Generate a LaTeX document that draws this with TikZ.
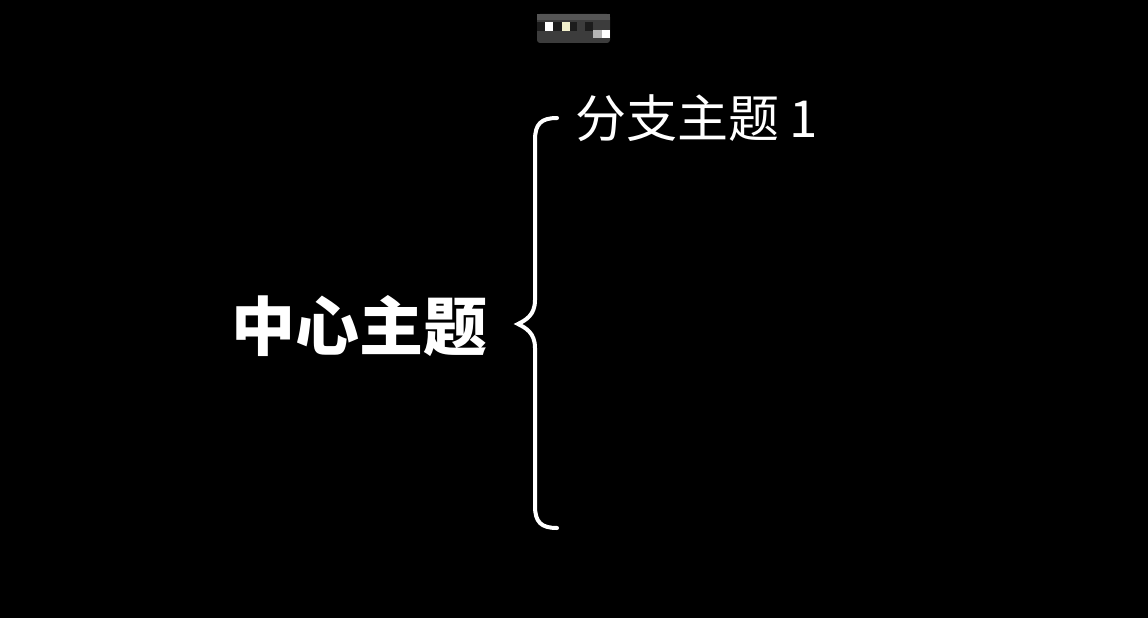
\documentclass[tikz,border=0pt]{standalone}
\usepackage{fontspec}
\usepackage{xcolor}
\usepackage{tikz}
\usetikzlibrary{positioning,calc}
\newfontfamily\cjk{Noto Sans CJK SC}

\definecolor{mosaicgray}{HTML}{3C3C3C}
\definecolor{mosaictop}{HTML}{555555}
\definecolor{mosaicdark}{HTML}{1C1C1C}
\definecolor{mosaicpale}{HTML}{F2F0CC}
\definecolor{mosaiclight}{HTML}{B4B4B4}

\begin{document}
\begin{tikzpicture}[x=1pt, y=-1pt,
  topic/.style={text=white, inner sep=0pt, font=\cjk\bfseries\fontsize{64}{72}\selectfont},
  branch/.style={text=white, inner sep=0pt, anchor=west, font=\cjk\fontsize{51}{58}\selectfont},
  bracket/.style={white, line width=4pt, line cap=round}]
  % Background
  \fill[black] (0,0) rectangle (1148,618);
  \useasboundingbox (0,0) rectangle (1148,618);

  % Mosaic at the top
  \fill[mosaicgray, rounded corners=3pt] (537,14) rectangle (610,43);
  \fill[mosaictop] (537,14) rectangle (610,20);
  \fill[mosaicdark] (537,22) rectangle (545,31);
  \fill[white] (545,22) rectangle (553,31);
  \fill[mosaicdark] (553,22) rectangle (562,31);
  \fill[mosaicpale] (562,22) rectangle (570,31);
  \fill[mosaicdark] (570,22) rectangle (577,31);
  \fill[mosaicdark] (585,22) rectangle (593,31);
  \fill[mosaiclight] (593,30) rectangle (602,38);
  \fill[white] (602,30) rectangle (610,38);

  % Topics
  \node[topic] (center) at (359,326) {中心主题};
  \node[branch] (branch1) at (575,118) {分支主题\hspace{10pt}1};

  % Brace
  \coordinate (tip) at (518,324);
  \coordinate (top) at (557,118);
  \coordinate (bottom) at (557,528);
  \draw[bracket] (top) .. controls (541,118) and (535,124) .. (535,140)
    -- (535,300) .. controls (535,315) and (526,320) .. (tip)
    .. controls (526,328) and (535,333) .. (535,348)
    -- (535,506) .. controls (535,522) and (541,528) .. (bottom);
\end{tikzpicture}
\end{document}
